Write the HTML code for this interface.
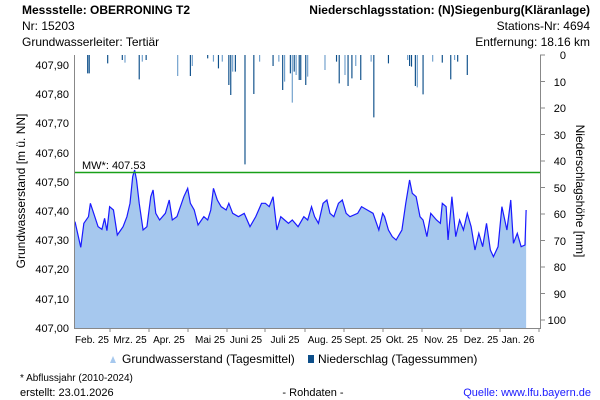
<!DOCTYPE html>
<html><head><meta charset="utf-8"><style>
body{margin:0;width:600px;height:400px;background:#fff;font-family:"Liberation Sans",sans-serif;overflow:hidden;position:relative}
.t{position:absolute;font-size:12px;color:#000;white-space:nowrap}
</style></head><body>
<div class="t" style="left:22px;top:3px;font-weight:bold">Messstelle: OBERRONING T2</div>
<div class="t" style="right:10px;top:3px;font-weight:bold">Niederschlagsstation: (N)Siegenburg(Kläranlage)</div>
<div class="t" style="left:22px;top:19px">Nr: 15203</div>
<div class="t" style="right:10px;top:19px">Stations-Nr: 4694</div>
<div class="t" style="left:22px;top:35px">Grundwasserleiter: Tertiär</div>
<div class="t" style="right:10px;top:35px">Entfernung: 18.16 km</div>
<svg width="600" height="400" style="position:absolute;left:0;top:0" font-family="Liberation Sans, sans-serif">
<g transform="translate(0,170) scale(0.3846,0.3333)">
<path fill="#a6c8ee" stroke="none" d="M195,155 L210,232 218,160 230,140 235,100 245,135 255,170 265,178 272,145 278,182 285,110 295,120 305,195 320,170 330,140 338,100 345,20 350,0 355,30 362,100 372,180 382,170 392,80 398,60 405,130 415,150 430,130 440,90 448,150 460,140 478,80 488,55 495,100 505,120 515,165 530,140 540,150 548,120 555,55 565,90 575,110 588,120 595,100 605,130 620,140 635,130 650,170 665,140 680,100 690,100 700,110 710,80 720,180 730,140 740,150 750,160 760,150 775,170 790,140 800,150 810,110 818,140 828,160 840,100 850,90 858,130 868,140 880,100 890,90 900,130 910,140 930,130 940,110 955,120 970,130 985,180 995,130 1000,140 1010,180 1020,200 1030,210 1040,190 1045,180 1055,100 1065,30 1072,70 1082,80 1092,140 1100,150 1110,200 1120,130 1135,150 1145,160 1150,100 1160,110 1165,210 1175,80 1185,200 1195,150 1205,180 1215,130 1225,170 1235,240 1245,190 1255,230 1265,160 1275,240 1283,260 1295,230 1305,110 1318,180 1328,90 1335,220 1345,190 1355,230 1365,225 1368,120 L1368,474 L195,474 Z"/>
<path fill="none" stroke="#1a1aff" stroke-width="1.2" vector-effect="non-scaling-stroke" d="M195,155 L210,232 218,160 230,140 235,100 245,135 255,170 265,178 272,145 278,182 285,110 295,120 305,195 320,170 330,140 338,100 345,20 350,0 355,30 362,100 372,180 382,170 392,80 398,60 405,130 415,150 430,130 440,90 448,150 460,140 478,80 488,55 495,100 505,120 515,165 530,140 540,150 548,120 555,55 565,90 575,110 588,120 595,100 605,130 620,140 635,130 650,170 665,140 680,100 690,100 700,110 710,80 720,180 730,140 740,150 750,160 760,150 775,170 790,140 800,150 810,110 818,140 828,160 840,100 850,90 858,130 868,140 880,100 890,90 900,130 910,140 930,130 940,110 955,120 970,130 985,180 995,130 1000,140 1010,180 1020,200 1030,210 1040,190 1045,180 1055,100 1065,30 1072,70 1082,80 1092,140 1100,150 1110,200 1120,130 1135,150 1145,160 1150,100 1160,110 1165,210 1175,80 1185,200 1195,150 1205,180 1215,130 1225,170 1235,240 1245,190 1255,230 1265,160 1275,240 1283,260 1295,230 1305,110 1318,180 1328,90 1335,220 1345,190 1355,230 1365,225 1368,120"/>
</g>
<g transform="scale(0.3846,0.3333)" stroke-width="3">
<path stroke="#0d4f8a" d="M228,165V220M232,165V220M280,165V190M318,165V180M362,165V238M380,165V180M495,165V228M540,165V175M568,165V205M595,165V255M600,165V285M612,165V215M637,165V493M660,165V282M710,165V198M735,165V270M755,165V220M765,165V215M778,165V240M782,165V240M795,165V255M875,165V185M882,165V250M905,165V258M915,165V235M938,165V240M972,165V352M1010,165V190M1065,165V198M1070,165V200M1080,165V258M1100,165V283M1150,165V188M1172,165V238M1190,165V185M1215,165V225"/>
<path stroke="#6f9fcc" d="M325,165V188M370,165V185M462,165V228M500,165V198M555,165V185M578,165V185M605,165V215M675,165V185M725,165V185M740,165V245M760,165V308M770,165V225M800,165V230M845,165V210M897,165V225M925,165V198M965,165V185M1060,165V180M1085,165V262M1125,165V185M1182,165V180"/>
</g>
<line x1="74" y1="172.5" x2="540" y2="172.5" stroke="#18a018" stroke-width="1.5"/>
<text x="82" y="169" font-size="11">MW*: 407.53</text>
<path d="M74.5,55V328.5H540.5V55" fill="none" stroke="#888" stroke-width="1"/>
<g font-size="11" text-anchor="end">
<text x="69" y="69">407,90</text><text x="69" y="98">407,80</text><text x="69" y="127">407,70</text><text x="69" y="157">407,60</text><text x="69" y="186">407,50</text><text x="69" y="215">407,40</text><text x="69" y="244">407,30</text><text x="69" y="273">407,20</text><text x="69" y="303">407,10</text><text x="69" y="332">407,00</text>
</g>
<g stroke="#888"><path d="M540,55h5M540,81.5h5M540,108h5M540,134.5h5M540,161h5M540,187.5h5M540,214h5M540,240.5h5M540,267h5M540,293.5h5M540,320h5"/>
<path d="M110,328v4M149,328v4M188,328v4M227,328v4M265,328v4M305,328v4M344,328v4M383,328v4M422,328v4M461,328v4M500,328v4M539,328v4"/></g>
<g font-size="11" text-anchor="end">
<text x="566" y="59">0</text><text x="566" y="86">10</text><text x="566" y="112">20</text><text x="566" y="139">30</text><text x="566" y="165">40</text><text x="566" y="192">50</text><text x="566" y="218">60</text><text x="566" y="245">70</text><text x="566" y="271">80</text><text x="566" y="298">90</text><text x="566" y="324">100</text>
</g>
<g font-size="10" text-anchor="middle">
<text x="92" y="343">Feb. 25</text><text x="130" y="343">Mrz. 25</text><text x="169" y="343">Apr. 25</text><text x="210" y="343">Mai 25</text><text x="246" y="343">Juni 25</text><text x="285" y="343">Juli 25</text><text x="325" y="343">Aug. 25</text><text x="363" y="343">Sept. 25</text><text x="402" y="343">Okt. 25</text><text x="441" y="343">Nov. 25</text><text x="481" y="343">Dez. 25</text><text x="518" y="343">Jan. 26</text>
</g>
<text transform="translate(25,191) rotate(-90)" font-size="12" text-anchor="middle">Grundwasserstand [m ü. NN]</text>
<text transform="translate(576,191) rotate(90)" font-size="12" text-anchor="middle">Niederschlagshöhe [mm]</text>
<path d="M110,363 l3,-7 l3,7z" fill="#a6c8ee"/>
<text x="122" y="363" font-size="12">Grundwasserstand (Tagesmittel)</text>
<rect x="308" y="355" width="6" height="8" fill="#0d4f8a"/>
<text x="318" y="363" font-size="12">Niederschlag (Tagessummen)</text>
<text x="20" y="381" font-size="10">* Abflussjahr (2010-2024)</text>
<text x="20" y="396" font-size="11">erstellt:  23.01.2026</text>
<text x="313" y="396" font-size="11" text-anchor="middle">- Rohdaten -</text>
<text x="591" y="396" font-size="11" text-anchor="end" fill="#1a1aff">Quelle: www.lfu.bayern.de</text>
</svg>
</body></html>
